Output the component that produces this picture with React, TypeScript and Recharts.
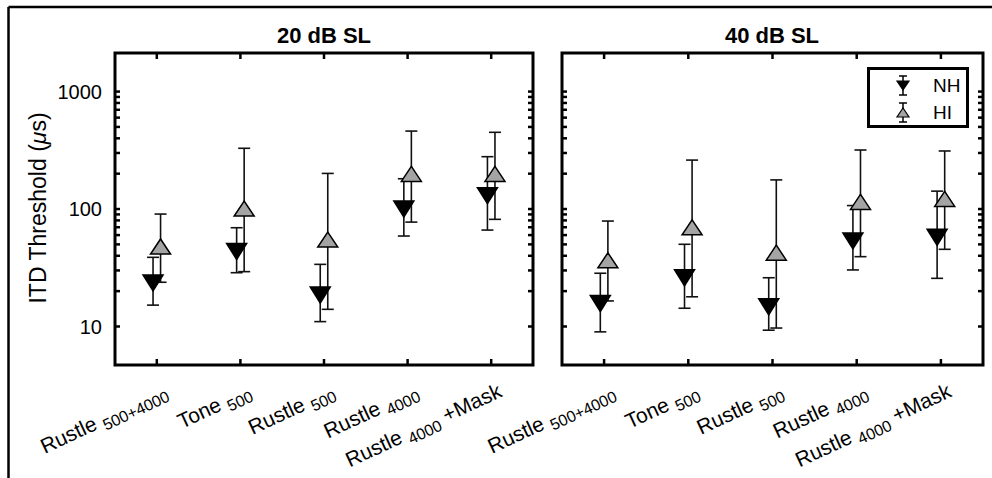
import React from 'react';
import { ScatterChart, Scatter, XAxis, YAxis, ErrorBar, ReferenceArea, Legend } from 'recharts';

const FONT = '"Liberation Sans", Arial, Helvetica, sans-serif';

// x tick labels: main text, subscript, trailing text
const condMain = ['Rustle', 'Tone', 'Rustle', 'Rustle', 'Rustle'];
const condSub = ['500+4000', '500', '500', '4000', '4000'];
const condTail = ['', '', '', '', '+Mask'];

const yTicks = [10, 20, 30, 40, 50, 60, 70, 80, 90, 100, 200, 300, 400, 500, 600, 700, 800, 900, 1000];
const yMajor = [10, 100, 1000];
const yDomain = [4.7, 2130];

const seriesOrder = ['NH', 'HI'];

// 20 dB SL
const nh20 = [23.5, 43.5, 18.5, 100, 130];
const nh20Lo = [15.2, 28.7, 11.0, 58.9, 66.2];
const nh20Hi = [38.8, 69.3, 33.8, 181, 279];
const hi20 = [48, 101, 55, 199, 199];
const hi20Lo = [23.8, 29.3, 14.0, 77.4, 81.7];
const hi20Hi = [90.6, 329, 201, 461, 450];

// 40 dB SL
const nh40 = [15.7, 26, 14.7, 53.5, 57.4];
const nh40Lo = [9.0, 14.3, 9.3, 30.3, 25.7];
const nh40Hi = [28.4, 50.1, 26, 107, 142];
const hi40 = [36.6, 69.8, 42.5, 115, 122];
const hi40Lo = [16.5, 17.9, 9.7, 39.3, 45.4];
const hi40Hi = [79, 261, 177, 318, 312];

const buildRows = (mean: number[], lo: number[], hi: number[], shift: number) =>
  mean.map((v, i) => ({ x: i + shift, y: v, err: [v - lo[i], hi[i] - v] }));

const DownTriangle = (props: any) => {
  const { cx, cy } = props;
  if (cx == null || cy == null) return null;
  return (
    <polygon
      points={`${cx - 10},${cy - 8} ${cx + 10},${cy - 8} ${cx},${cy + 8}`}
      fill="#000"
      stroke="#000"
      strokeWidth={1.5}
    />
  );
};

const UpTriangle = (props: any) => {
  const { cx, cy } = props;
  if (cx == null || cy == null) return null;
  return (
    <polygon
      points={`${cx - 10},${cy + 7.5} ${cx + 10},${cy + 7.5} ${cx},${cy - 7.5}`}
      fill="#a4a4a4"
      stroke="#000"
      strokeWidth={1.5}
    />
  );
};

const LegendBox = (props: any) => {
  const items = [...(props.payload || [])].sort(
    (a: any, b: any) => seriesOrder.indexOf(a.value) - seriesOrder.indexOf(b.value)
  );
  return (
    <div
      style={{
        width: 102,
        height: 61,
        border: '3px solid #000',
        boxSizing: 'border-box',
        background: '#fff',
        fontFamily: FONT,
        fontSize: 19,
        paddingTop: 2,
      }}
    >
      {items.map((entry: any) => {
        const down = entry.value === 'NH';
        return (
          <div key={entry.value} style={{ display: 'flex', alignItems: 'center', height: 27 }}>
            <svg width={60} height={27} style={{ display: 'block' }}>
              <line x1={33} x2={33} y1={4} y2={23} stroke="#000" strokeWidth={1.5} />
              <line x1={29} x2={37} y1={4} y2={4} stroke="#000" strokeWidth={1.5} />
              <line x1={29} x2={37} y1={23} y2={23} stroke="#000" strokeWidth={1.5} />
              {down ? (
                <polygon points="27,9 39,9 33,18" fill="#000" stroke="#000" strokeWidth={1.2} />
              ) : (
                <polygon points="27,18 39,18 33,9" fill="#a4a4a4" stroke="#000" strokeWidth={1.2} />
              )}
            </svg>
            <span style={{ marginLeft: 3 }}>{entry.value}</span>
          </div>
        );
      })}
    </div>
  );
};

interface PanelProps {
  width: number;
  margin: { top: number; right: number; bottom: number; left: number };
  yAxisWidth: number;
  showYLabels: boolean;
  legendLeft?: number;
  nh: any[];
  hi: any[];
}

const HEIGHT = 478;
const X_AXIS_H = 60;

const Panel: React.FC<PanelProps> = ({ width, margin, yAxisWidth, showYLabels, legendLeft, nh, hi }) => {
  const plotW = width - margin.left - margin.right - yAxisWidth;
  const plotH = HEIGHT - margin.top - margin.bottom - X_AXIS_H;

  const renderYTick = (p: any) => {
    const { x, y, payload } = p;
    const major = yMajor.includes(payload.value);
    return (
      <g>
        <line x1={x} x2={x + 5} y1={y} y2={y} stroke="#000" strokeWidth={2.5} />
        <line x1={x + plotW - 5} x2={x + plotW} y1={y} y2={y} stroke="#000" strokeWidth={2.5} />
        {showYLabels && major && (
          <text x={x - 13} y={y} dy="0.36em" textAnchor="end" fontSize={20} fontFamily={FONT} fill="#000">
            {payload.value}
          </text>
        )}
      </g>
    );
  };

  const renderXTick = (p: any) => {
    const { x, y, payload } = p;
    const i = payload.value as number;
    return (
      <g>
        <line x1={x} x2={x} y1={y} y2={y - 6} stroke="#000" strokeWidth={2.5} />
        <line x1={x} x2={x} y1={y - plotH} y2={y - plotH + 6} stroke="#000" strokeWidth={2.5} />
        <g transform={`translate(${x + 12},${y + 31}) rotate(-25)`}>
          <text x={0} y={0} textAnchor="end" fontFamily={FONT} fontSize={21} fill="#000">
            <tspan>{condMain[i] + ' '}</tspan>
            <tspan fontSize={16} dy={5}>{condSub[i]}</tspan>
            {condTail[i] && <tspan dy={-5}>{' ' + condTail[i]}</tspan>}
          </text>
        </g>
      </g>
    );
  };

  return (
    <ScatterChart width={width} height={HEIGHT} margin={margin}>
      <XAxis
        type="number"
        dataKey="x"
        domain={[-0.5, 4.5]}
        ticks={[0, 1, 2, 3, 4]}
        interval={0}
        height={X_AXIS_H}
        axisLine={false}
        tickLine={false}
        tickSize={0}
        tickMargin={0}
        tick={renderXTick}
        allowDataOverflow
      />
      <YAxis
        type="number"
        dataKey="y"
        scale="log"
        domain={yDomain}
        ticks={yTicks}
        interval={0}
        width={yAxisWidth}
        axisLine={false}
        tickLine={false}
        tickSize={0}
        tickMargin={0}
        tick={renderYTick}
        allowDataOverflow
      />
      <ReferenceArea
        x1={-0.5}
        x2={4.5}
        y1={yDomain[0]}
        y2={yDomain[1]}
        stroke="#000"
        strokeWidth={3}
        fill="none"
        fillOpacity={0}
        ifOverflow="visible"
      />
      <Scatter name="NH" data={nh} shape={DownTriangle} isAnimationActive={false}>
        <ErrorBar dataKey="err" direction="y" width={6} stroke="#111" strokeWidth={1.6} isAnimationActive={false} />
      </Scatter>
      <Scatter name="HI" data={hi} shape={UpTriangle} isAnimationActive={false}>
        <ErrorBar dataKey="err" direction="y" width={6} stroke="#111" strokeWidth={1.6} isAnimationActive={false} />
      </Scatter>
      {legendLeft != null && (
        <Legend
          layout="horizontal"
          verticalAlign="middle"
          align="center"
          content={LegendBox}
          wrapperStyle={{ left: legendLeft, top: 67, width: 102, height: 61 }}
        />
      )}
    </ScatterChart>
  );
};

export default function App() {
  const shift = 0.045;
  return (
    <div style={{ position: 'absolute', left: 0, top: 0, width: 992, height: 478, background: '#fff', overflow: 'hidden' }}>
      <div style={{ position: 'absolute', left: 0, top: 0 }}>
        <Panel
          width={545}
          margin={{ top: 53, right: 12, bottom: 53, left: 55 }}
          yAxisWidth={60}
          showYLabels
          nh={buildRows(nh20, nh20Lo, nh20Hi, -shift)}
          hi={buildRows(hi20, hi20Lo, hi20Hi, shift)}
        />
      </div>
      <div style={{ position: 'absolute', left: 440, top: 0 }}>
        <Panel
          width={552}
          margin={{ top: 53, right: 9, bottom: 53, left: 112 }}
          yAxisWidth={10}
          showYLabels={false}
          legendLeft={427}
          nh={buildRows(nh40, nh40Lo, nh40Hi, -shift)}
          hi={buildRows(hi40, hi40Lo, hi40Hi, shift)}
        />
      </div>
      <svg width={992} height={478} style={{ position: 'absolute', left: 0, top: 0, pointerEvents: 'none' }}>
        <line x1={8.5} x2={992} y1={7} y2={7} stroke="#000" strokeWidth={2.5} />
        <line x1={8.5} x2={8.5} y1={7} y2={478} stroke="#000" strokeWidth={2.5} />
        <text x={324} y={43} textAnchor="middle" fontFamily={FONT} fontWeight="bold" fontSize={22} fill="#000">
          20 dB SL
        </text>
        <text x={772} y={43} textAnchor="middle" fontFamily={FONT} fontWeight="bold" fontSize={22} fill="#000">
          40 dB SL
        </text>
        <text
          transform="translate(46,208) rotate(-90)"
          textAnchor="middle"
          fontFamily={FONT}
          fontSize={23}
          fill="#000"
        >
          ITD Threshold (<tspan fontStyle="italic">μ</tspan>s)
        </text>
      </svg>
    </div>
  );
}
